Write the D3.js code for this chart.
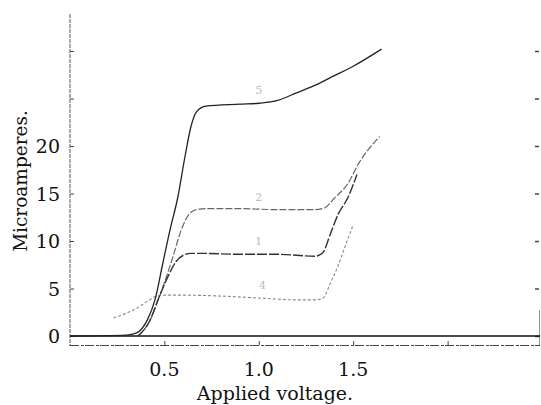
<!DOCTYPE html>
<html><head><meta charset="utf-8">
<script src="https://cdn.jsdelivr.net/npm/d3@7"></script>
<style>body{margin:0;background:#fff}svg{display:block}</style>
</head><body>
<script>
// Data
const topV = [0, 0.3, 0.35, 0.41, 0.45, 0.49, 0.53, 0.57, 0.61, 0.64, 0.67, 0.72, 0.9, 1.0, 1.1, 1.2, 1.3, 1.4, 1.5, 1.65];
const topI = [0, 0.1, 0.3, 1.7, 3.8, 7.5, 11.2, 14.5, 19, 22, 23.6, 24.2, 24.4, 24.5, 24.8, 25.6, 26.4, 27.4, 28.4, 30.2];
const c2V = [0.36, 0.42, 0.48, 0.54, 0.59, 0.63, 0.67, 0.72, 0.9, 1.1, 1.3, 1.35, 1.4, 1.47, 1.53, 1.64];
const c2I = [0, 1.5, 4.5, 8, 11.2, 12.8, 13.3, 13.4, 13.4, 13.3, 13.3, 13.5, 14.5, 16, 18.2, 21];
const c1V = [0.36, 0.42, 0.47, 0.52, 0.56, 0.6, 0.64, 0.7, 0.9, 1.1, 1.3, 1.34, 1.38, 1.42, 1.47, 1.52];
const c1I = [0, 1.5, 4, 6.3, 7.8, 8.5, 8.7, 8.7, 8.6, 8.6, 8.4, 8.8, 10.8, 12.8, 14.5, 17];
const c4V = [0.23, 0.3, 0.36, 0.42, 0.46, 0.5, 0.6, 0.8, 1.0, 1.2, 1.3, 1.34, 1.38, 1.42, 1.46, 1.5];
const c4I = [1.9, 2.4, 3.0, 3.8, 4.2, 4.3, 4.3, 4.2, 4.0, 3.8, 3.8, 4.0, 5.6, 7.4, 9.6, 11.7];
const curveLabels = ["5", "2", "1", "4"];
const labelPos = [[1.0, 25.5], [1.0, 14.2], [1.0, 9.6], [1.02, 4.9]];
const yTicks = [0, 5, 10, 15, 20, 25, 30];
const yTickLabels = ["0", "5", "10", "15", "20", "", ""];
const xTicks = [0.5, 1.0, 1.5, 2.0];
const xTickLabels = ["0.5", "1.0", "1.5", ""];

const W = 541, H = 405;
const svg = d3.select("body").append("svg").attr("width", W).attr("height", H);
const font = "'DejaVu Serif', 'Liberation Serif', serif";

const x = d3.scaleLinear().domain([0, 2.5]).range([70, 542]);
const y = d3.scaleLinear().domain([0, 20]).range([336, 146]);

// left axis
const gl = svg.append("g").attr("transform", "translate(70,0)");
gl.call(d3.axisRight(y).tickValues(yTicks).tickSize(4).tickFormat(""));
gl.select(".domain").remove();
gl.selectAll(".tick line").attr("stroke", "#444");
svg.append("line").attr("x1", 70).attr("x2", 70).attr("y1", 14).attr("y2", 346)
  .attr("stroke", "#555").attr("stroke-width", 1).attr("stroke-dasharray", "4,1");
svg.append("g").selectAll("text").data(yTicks).enter().append("text")
  .attr("x", 60).attr("y", d => y(d) + 7)
  .attr("text-anchor", "end").attr("font-family", font).attr("font-size", 19).attr("fill", "#111")
  .text((d, i) => yTickLabels[i]);

// right axis
const gr = svg.append("g").attr("transform", "translate(539,0)");
gr.call(d3.axisLeft(y).tickValues(yTicks).tickSize(4).tickFormat(""));
gr.select(".domain").remove();
gr.selectAll(".tick line").attr("stroke", "#444").attr("stroke-width", 1.5);
svg.append("line").attr("x1", 539.5).attr("x2", 539.5).attr("y1", 310).attr("y2", 346)
  .attr("stroke", "#999").attr("stroke-width", 1);

// bottom axis
const gb = svg.append("g").attr("transform", "translate(0,345)");
gb.call(d3.axisTop(x).tickValues(xTicks).tickSize(4).tickFormat(""));
gb.select(".domain").remove();
gb.selectAll(".tick line").attr("stroke", "#444");
svg.append("line").attr("x1", 70).attr("x2", 540).attr("y1", 345.5).attr("y2", 345.5)
  .attr("stroke", "#444").attr("stroke-width", 1).attr("stroke-dasharray", "9,2,3,1");
svg.append("g").selectAll("text").data(xTicks).enter().append("text")
  .attr("x", d => x(d)).attr("y", 376)
  .attr("text-anchor", "middle").attr("font-family", font).attr("font-size", 19).attr("fill", "#111")
  .text((d, i) => xTickLabels[i]);

// zero line
svg.append("line").attr("x1", 70).attr("x2", 540).attr("y1", y(0)).attr("y2", y(0))
  .attr("stroke", "#111").attr("stroke-width", 1.6);

// axis titles
svg.append("text").attr("x", 275).attr("y", 400).attr("text-anchor", "middle")
  .attr("font-family", font).attr("font-size", 19).attr("fill", "#111").text("Applied voltage.");
svg.append("text").attr("transform", "translate(27,181) rotate(-90)").attr("text-anchor", "middle")
  .attr("font-family", font).attr("font-size", 18.5).attr("fill", "#111").text("Microamperes.");

// curves
const line = d3.line().x(d => x(d[0])).y(d => y(d[1])).curve(d3.curveMonotoneX);
const series = [
  {v: c4V, i: c4I, color: "#8a8a8a", w: 1.1, dash: "3,2"},
  {v: c2V, i: c2I, color: "#666", w: 1.2, dash: "7,2"},
  {v: c1V, i: c1I, color: "#333", w: 1.4, dash: "10,2"},
  {v: topV, i: topI, color: "#222", w: 1.3, dash: null}
];
series.forEach(s => {
  svg.append("path").datum(s.v.map((v, k) => [v, s.i[k]]))
    .attr("d", line).attr("fill", "none").attr("stroke", s.color)
    .attr("stroke-width", s.w).attr("stroke-dasharray", s.dash);
});

// faint curve labels
svg.append("g").selectAll("text").data(curveLabels).enter().append("text")
  .attr("x", (d, i) => x(labelPos[i][0])).attr("y", (d, i) => y(labelPos[i][1]))
  .attr("text-anchor", "middle").attr("font-family", font).attr("font-size", 11).attr("fill", "#bbb")
  .text(d => d);
</script>
</body></html>
